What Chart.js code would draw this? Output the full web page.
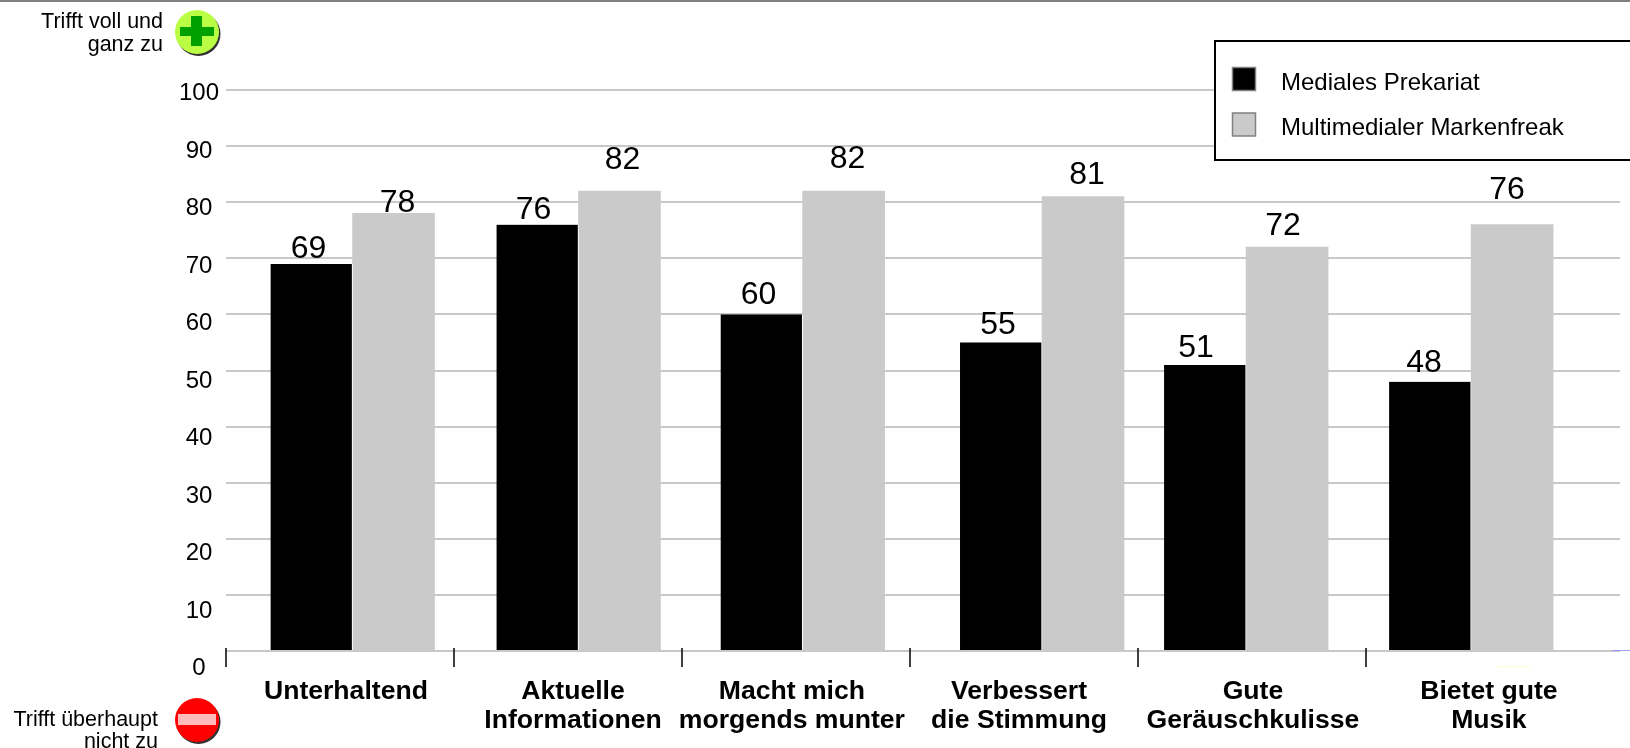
<!DOCTYPE html>
<html>
<head>
<meta charset="utf-8">
<title>Mediennutzung</title>
<script src="https://cdn.jsdelivr.net/npm/chart.js@4"></script>
<style>
  html, body { margin: 0; padding: 0; background: #fff; }
  canvas { display: block; }
</style>
</head>
<body>
<canvas id="barChart" width="1630" height="748"></canvas>
<script>
const categories = [
  ["Unterhaltend"],
  ["Aktuelle", "Informationen"],
  ["Macht mich", "morgends munter"],
  ["Verbessert", "die Stimmung"],
  ["Gute", "Geräuschkulisse"],
  ["Bietet gute", "Musik"]
];
const prekariat = [69, 76, 60, 55, 51, 48];
const markenfreak = [78, 82, 82, 81, 72, 76];
const yTicks = [0, 10, 20, 30, 40, 50, 60, 70, 80, 90, 100];

// the groups do not sit evenly in the original, so x is a linear scale (1 unit = one section)
const groupPos = [0.555, 1.546, 2.529, 3.579, 4.474, 5.461];
const namePos = [0.526, 1.522, 2.482, 3.478, 4.504, 5.539];
const sectionTicks = [0, 1, 2, 3, 4, 5];
const xMax = 6.114;

// hand placed value labels, offset from the top centre of each bar
const labelShift = [
  [[-3, -15], [-4, -14], [-3, -19], [-3, -17], [-9, -17], [-6, -19]],
  [[4, -10], [3, -31], [4, -32], [4, -21], [-4, -21], [-5, -34]]
];

const FONT = '"Liberation Sans", Arial, sans-serif';

function rightText(ctx, lines, x, y, step) {
  ctx.font = "21.5px " + FONT;
  ctx.fillStyle = "#000";
  ctx.textAlign = "right";
  ctx.textBaseline = "middle";
  lines.forEach((l, i) => ctx.fillText(l, x, y + i * step));
}

function badge(ctx, x, y, fill) {
  ctx.fillStyle = "#333";
  ctx.beginPath();
  ctx.arc(x + 1.5, y + 2, 22, 0, Math.PI * 2);
  ctx.fill();
  ctx.fillStyle = fill;
  ctx.beginPath();
  ctx.arc(x, y, 22, 0, Math.PI * 2);
  ctx.fill();
}

const decor = {
  id: "decor",
  afterDatasetsDraw(chart) {
    const ctx = chart.ctx;
    ctx.save();

    // value labels
    ctx.font = "32px " + FONT;
    ctx.fillStyle = "#000";
    ctx.textAlign = "center";
    ctx.textBaseline = "middle";
    chart.data.datasets.forEach((ds, d) => {
      chart.getDatasetMeta(d).data.forEach((bar, i) => {
        ctx.fillText(ds.data[i].y, bar.x + labelShift[d][i][0], bar.y + labelShift[d][i][1]);
      });
    });

    // section marks under the axis
    const xs = chart.scales.x;
    ctx.strokeStyle = "#000";
    ctx.lineWidth = 1.5;
    sectionTicks.forEach(t => {
      const px = xs.getPixelForValue(t);
      ctx.beginPath();
      ctx.moveTo(px, 648);
      ctx.lineTo(px, 667);
      ctx.stroke();
    });

    // stray lines of the original
    ctx.fillStyle = "#9999ff";
    ctx.fillRect(1612, 650, 18, 1);
    ctx.fillStyle = "#ffffcc";
    ctx.fillRect(1497, 666, 33, 1);

    // top rule
    ctx.fillStyle = "#808080";
    ctx.fillRect(0, 0, 1630, 2);

    // legend
    ctx.fillStyle = "#fff";
    ctx.fillRect(1215, 41, 415, 119);
    ctx.strokeStyle = "#000";
    ctx.lineWidth = 2;
    ctx.strokeRect(1215, 41, 420, 119);
    chart.data.datasets.forEach((ds, d) => {
      const y = 79 + d * 45.5;
      ctx.fillStyle = ds.backgroundColor;
      ctx.strokeStyle = "#808080";
      ctx.lineWidth = 1.5;
      ctx.fillRect(1232.5, y - 11.5, 23, 23);
      ctx.strokeRect(1232.5, y - 11.5, 23, 23);
      ctx.font = "24px " + FONT;
      ctx.fillStyle = "#000";
      ctx.textAlign = "left";
      ctx.textBaseline = "middle";
      ctx.fillText(ds.label, 1281, y + 4);
    });

    // scale ends
    rightText(ctx, ["Trifft voll und", "ganz zu"], 163, 22, 23);
    badge(ctx, 197, 32, "#bbff44");
    ctx.fillStyle = "#00a000";
    ctx.fillRect(180, 27, 34, 9);
    ctx.fillRect(191, 16, 11, 30);

    rightText(ctx, ["Trifft überhaupt", "nicht zu"], 158, 720, 22);
    badge(ctx, 197, 720, "#ff0000");
    ctx.fillStyle = "#ffbbbb";
    ctx.fillRect(178, 714, 38, 11);

    ctx.restore();
  }
};

new Chart(document.getElementById("barChart"), {
  type: "bar",
  plugins: [decor],
  data: {
    datasets: [{
      label: "Mediales Prekariat",
      data: prekariat.map((v, i) => ({ x: groupPos[i], y: v })),
      backgroundColor: "#000000",
      borderColor: "#ffffff",
      borderWidth: { right: 1 },
      borderSkipped: false,
      barThickness: 82
    }, {
      label: "Multimedialer Markenfreak",
      data: markenfreak.map((v, i) => ({ x: groupPos[i], y: v })),
      backgroundColor: "#cacaca",
      barThickness: 82
    }]
  },
  options: {
    responsive: false,
    animation: false,
    layout: { padding: { top: 90, right: 10, bottom: 0, left: 0 } },
    plugins: {
      legend: { display: false },
      tooltip: { enabled: false }
    },
    scales: {
      x: {
        type: "linear",
        min: 0,
        max: xMax,
        offset: false,
        grid: { display: false, offset: false },
        border: { display: false },
        ticks: { display: false },
        afterFit: s => { s.height = 16; }
      },
      xNames: {
        type: "linear",
        position: "bottom",
        min: 0,
        max: xMax,
        offset: false,
        grid: { display: false, offset: false },
        border: { display: false },
        afterBuildTicks: s => { s.ticks = namePos.map(v => ({ value: v })); },
        afterFit: s => { s.height = 81; },
        ticks: {
          autoSkip: false,
          maxRotation: 0,
          padding: 3,
          color: "#000",
          font: { family: FONT, size: 26.6, weight: "bold", lineHeight: 1.06 },
          callback: (v, i) => categories[i]
        }
      },
      y: {
        min: 0,
        max: 100,
        grid: { color: "#c8c8c8", lineWidth: 2, drawTicks: false },
        border: { display: false },
        ticks: { display: false, stepSize: 10 },
        afterFit: s => { s.width = 0; }
      },
      // the tick labels drift against the gridlines in the original, so they get their own scale
      yLabels: {
        position: "left",
        min: 3.04,
        max: 100.6,
        grid: { display: false, drawTicks: false },
        border: { display: false },
        afterBuildTicks: s => { s.ticks = yTicks.map(v => ({ value: v })); },
        afterFit: s => { s.width = 226; },
        ticks: {
          autoSkip: false,
          crossAlign: "center",
          padding: 7,
          color: "#000",
          font: { family: FONT, size: 24 },
          callback: v => v
        }
      }
    }
  }
});
</script>
</body>
</html>
